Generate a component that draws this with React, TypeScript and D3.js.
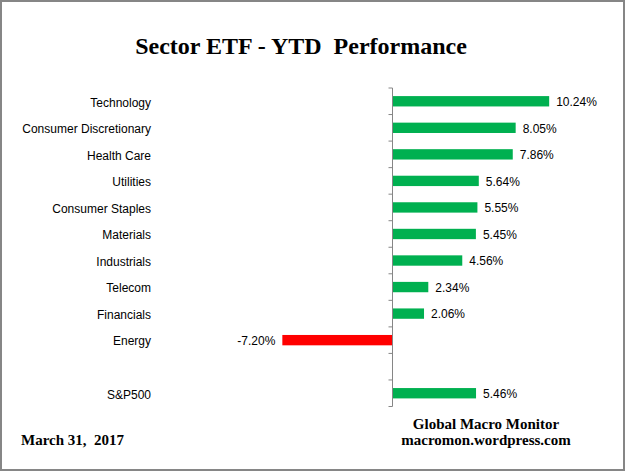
import React from "react";
import * as d3 from "d3";

const categories = [
  "Technology",
  "Consumer Discretionary",
  "Health Care",
  "Utilities",
  "Consumer Staples",
  "Materials",
  "Industrials",
  "Telecom",
  "Financials",
  "Energy",
  "",
  "S&P500",
];
const values: (number | null)[] = [10.24, 8.05, 7.86, 5.64, 5.55, 5.45, 4.56, 2.34, 2.06, -7.2, null, 5.46];
const title = "Sector ETF - YTD  Performance";
const dateText = "March 31,  2017";
const sourceLines = ["Global Macro Monitor", "macromon.wordpress.com"];

const W = 626;
const H = 473;

export default function App() {
  const keys = categories.map((c, i) => `${i}`);
  const y = d3.scaleBand<string>().domain(keys).range([88, 406.5]).paddingInner(0.61).paddingOuter(0.305);
  const x = d3.scaleLinear().domain([-8, 12]).range([392.5 - 8 * 15.3, 392.5 + 12 * 15.3]);
  const x0 = x(0);
  const step = y.step();
  const ticks = d3.range(categories.length + 1).map((i) => 88 + i * step);
  const fmt = (v: number) => `${v.toFixed(2)}%`;

  return (
    <svg
      width={W}
      height={H}
      style={{ position: "absolute", left: 0, top: 0, background: "#fff" }}
    >
      <rect x={1} y={1} width={623} height={469} fill="#fff" stroke="#868686" strokeWidth={2} />
      <text
        x={301}
        y={54}
        textAnchor="middle"
        fontFamily="Liberation Serif, Times New Roman, serif"
        fontWeight="bold"
        fontSize={24}
        style={{ whiteSpace: "pre" }}
      >
        {title}
      </text>

      {categories.map((c, i) => {
        const cy = (y(keys[i]) as number) + y.bandwidth() / 2;
        return (
          <text
            key={"l" + i}
            x={151}
            y={cy + 1}
            dy="0.36em"
            textAnchor="end"
            fontFamily="Liberation Sans, Arial, sans-serif"
            fontSize={12}
            fill="#000"
          >
            {c}
          </text>
        );
      })}

      {values.map((v, i) => {
        if (v === null) return null;
        const by = y(keys[i]) as number;
        const bh = y.bandwidth();
        const xv = x(v);
        const left = Math.min(xv, x0);
        const w = Math.abs(xv - x0);
        return (
          <g key={"b" + i}>
            <rect x={left} y={by} width={w} height={bh} fill={v >= 0 ? "#00B050" : "#FF0000"} />
            <text
              x={v >= 0 ? xv + 7 : xv - 7}
              y={by + bh / 2}
              dy="0.4em"
              textAnchor={v >= 0 ? "start" : "end"}
              fontFamily="Liberation Sans, Arial, sans-serif"
              fontSize={12}
              fill="#000"
            >
              {fmt(v)}
            </text>
          </g>
        );
      })}

      <line x1={x0} x2={x0} y1={88} y2={ticks[ticks.length - 1]} stroke="#868686" strokeWidth={1} />
      {ticks.map((t, i) => (
        <line key={"t" + i} x1={x0 - 4} x2={x0} y1={t} y2={t} stroke="#868686" strokeWidth={1} />
      ))}

      <text
        x={21}
        y={445}
        fontFamily="Liberation Serif, Times New Roman, serif"
        fontWeight="bold"
        fontSize={15}
        style={{ whiteSpace: "pre" }}
      >
        {dateText}
      </text>
      {sourceLines.map((s, i) => (
        <text
          key={"s" + i}
          x={486}
          y={429 + i * 16}
          textAnchor="middle"
          fontFamily="Liberation Serif, Times New Roman, serif"
          fontWeight="bold"
          fontSize={15}
        >
          {s}
        </text>
      ))}
    </svg>
  );
}
